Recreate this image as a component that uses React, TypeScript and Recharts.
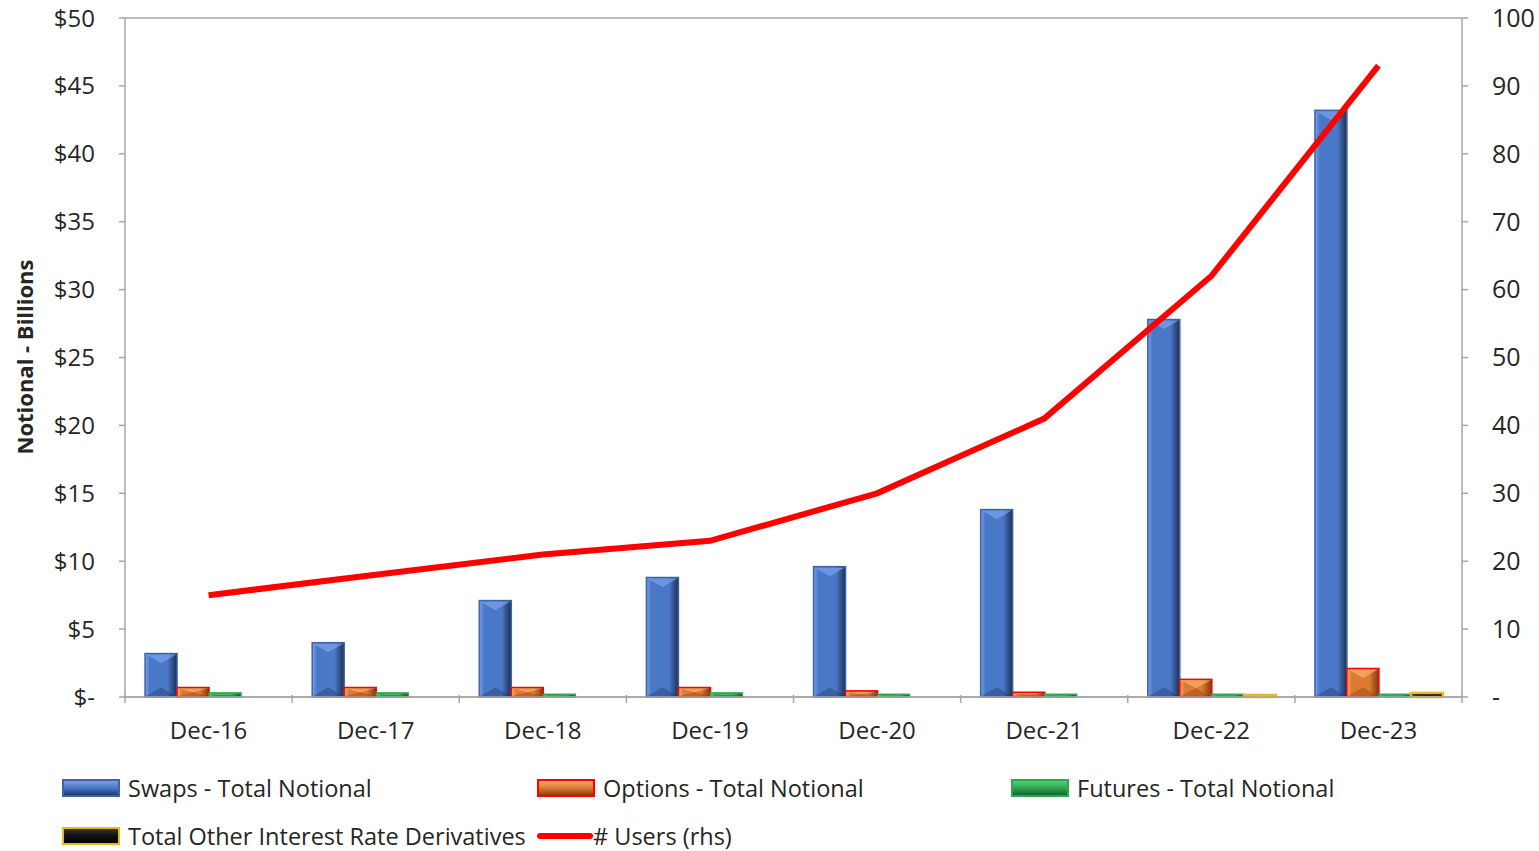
import React from "react";
import {
  ComposedChart,
  Bar,
  Line,
  XAxis,
  YAxis,
  CartesianGrid,
  Label,
} from "recharts";

const categories = ["Dec-16", "Dec-17", "Dec-18", "Dec-19", "Dec-20", "Dec-21", "Dec-22", "Dec-23"];
const swaps = [3.2, 4.0, 7.1, 8.8, 9.6, 13.8, 27.8, 43.2];
const options = [0.7, 0.7, 0.7, 0.7, 0.45, 0.35, 1.3, 2.1];
const futures = [0.3, 0.3, 0.2, 0.3, 0.2, 0.2, 0.2, 0.2];
const otherIrd = [0, 0, 0, 0, 0, 0, 0.15, 0.3];
const users = [15, 18, 21, 23, 30, 41, 62, 93];

const leftTicks = [0, 5, 10, 15, 20, 25, 30, 35, 40, 45, 50];
const rightTicks = [0, 10, 20, 30, 40, 50, 60, 70, 80, 90, 100];

const FONT = "'Open Sans', sans-serif";
const GRID = "#a6a6a6";
const TEXT = "#262626";

const data = categories.map((c, i) => ({
  name: c,
  swaps: swaps[i],
  options: options[i],
  futures: futures[i],
  other: otherIrd[i],
  users: users[i],
}));

interface BarStyle {
  id: string;
  light: string;
  main: string;
  dark: string;
  stroke: string;
  strokeWidth: number;
}

const styles: Record<string, BarStyle> = {
  swaps: { id: "gSwaps", light: "#7aa2e8", main: "#4a78c8", dark: "#1c2f52", stroke: "#3d64a8", strokeWidth: 1.5 },
  options: { id: "gOptions", light: "#f8b070", main: "#dd7a30", dark: "#7a3a10", stroke: "#ff0000", strokeWidth: 1.5 },
  futures: { id: "gFutures", light: "#5cd080", main: "#2ea84f", dark: "#14582a", stroke: "#2ea84f", strokeWidth: 1.5 },
  other: { id: "gOther", light: "#3a3a3a", main: "#111111", dark: "#000000", stroke: "#e8b820", strokeWidth: 2.5 },
};

function Gradient({ s }: { s: BarStyle }) {
  return (
    <linearGradient id={s.id} x1="0" y1="0" x2="1" y2="0">
      <stop offset="0%" stopColor={s.light} />
      <stop offset="15%" stopColor={s.main} />
      <stop offset="70%" stopColor={s.main} />
      <stop offset="100%" stopColor={s.dark} />
    </linearGradient>
  );
}

function bevelShape(s: BarStyle) {
  return (props: any) => {
    const { x, y, width, height } = props;
    if (!height || height <= 0) return <g />;
    const d = Math.min(height / 2, width * 0.3);
    return (
      <g>
        <rect x={x} y={y} width={width} height={height} fill={`url(#${s.id})`} stroke={s.stroke} strokeWidth={s.strokeWidth} />
        <polygon
          points={`${x + 1},${y + 1} ${x + width - 1},${y + 1} ${x + width / 2},${y + d}`}
          fill={s.light}
          opacity={0.7}
        />
        <polygon
          points={`${x + 1},${y + height - 1} ${x + width - 1},${y + height - 1} ${x + width / 2},${y + height - d}`}
          fill={s.dark}
          opacity={0.35}
        />
      </g>
    );
  };
}

// category label plus tick marks on the band edges
function CategoryTick(props: any) {
  const { x, y, payload, index } = props;
  const half = payload.offset ?? 0;
  const axisY = y - 10;
  return (
    <g>
      <line x1={x - half} x2={x - half} y1={axisY} y2={axisY + 8} stroke={GRID} strokeWidth={1.5} />
      {index === categories.length - 1 && (
        <line x1={x + half} x2={x + half} y1={axisY} y2={axisY + 8} stroke={GRID} strokeWidth={1.5} />
      )}
      <text x={x} y={y + 34} textAnchor="middle" fontSize={24} fontFamily={FONT} fill={TEXT}>
        {payload.value}
      </text>
    </g>
  );
}

const legendItems = [
  { label: "Swaps - Total Notional", key: "swaps", left: 62, top: 780 },
  { label: "Options - Total Notional", key: "options", left: 537, top: 780 },
  { label: "Futures - Total Notional", key: "futures", left: 1011, top: 780 },
  { label: "Total Other Interest Rate Derivatives", key: "other", left: 62, top: 828 },
];

function Swatch({ s }: { s: BarStyle }) {
  return (
    <svg width={58} height={18} style={{ display: "block" }}>
      <defs>
        <linearGradient id={`${s.id}L`} x1="0" y1="0" x2="0" y2="1">
          <stop offset="0%" stopColor={s.light} />
          <stop offset="50%" stopColor={s.main} />
          <stop offset="100%" stopColor={s.dark} />
        </linearGradient>
      </defs>
      <rect x={1} y={1} width={56} height={16} fill={`url(#${s.id}L)`} stroke={s.stroke} strokeWidth={2} />
    </svg>
  );
}

const legendText: React.CSSProperties = {
  position: "absolute",
  display: "flex",
  alignItems: "center",
  fontFamily: FONT,
  fontSize: 23.5,
  color: TEXT,
  whiteSpace: "nowrap",
};

export default function App() {
  return (
    <div style={{ position: "absolute", left: 0, top: 0, width: 1539, height: 851, background: "#fff" }}>
      <ComposedChart
        width={1539}
        height={760}
        data={data}
        margin={{ top: 18, right: 0, bottom: 0, left: 0 }}
        barCategoryGap="12%"
        barGap={0}
      >
        <defs>
          {Object.values(styles).map((s) => (
            <Gradient key={s.id} s={s} />
          ))}
        </defs>
        <CartesianGrid vertical={false} stroke={GRID} strokeWidth={1.5} />
        <XAxis
          dataKey="name"
          height={63}
          tickLine={false}
          axisLine={{ stroke: GRID, strokeWidth: 1.5 }}
          tick={<CategoryTick />}
          interval={0}
        />
        <YAxis
          yAxisId="left"
          width={125}
          domain={[0, 50]}
          ticks={leftTicks}
          tickFormatter={(v: number) => (v === 0 ? "$-" : `$${v}`)}
          tick={{ fontSize: 24, fontFamily: FONT, fill: TEXT }}
          tickLine={{ stroke: GRID, strokeWidth: 1.5 }}
          tickSize={6}
          tickMargin={24}
          axisLine={{ stroke: GRID, strokeWidth: 1.5 }}
        >
          <Label
            content={() => (
              <text
                x={0}
                y={0}
                transform="translate(33,357) rotate(-90)"
                textAnchor="middle"
                fontSize={22}
                fontWeight="bold"
                fontFamily={FONT}
                fill={TEXT}
              >
                Notional - Billions
              </text>
            )}
          />
        </YAxis>
        <YAxis
          yAxisId="right"
          orientation="right"
          width={77}
          domain={[0, 100]}
          ticks={rightTicks}
          tickFormatter={(v: number) => (v === 0 ? "-" : String(v))}
          tick={{ fontSize: 25, fontFamily: FONT, fill: TEXT, textAnchor: "start" }}
          tickLine={{ stroke: GRID, strokeWidth: 1.5 }}
          tickSize={6}
          tickMargin={24}
          axisLine={{ stroke: GRID, strokeWidth: 1.5 }}
        />
        <Bar yAxisId="left" dataKey="swaps" shape={bevelShape(styles.swaps)} isAnimationActive={false} />
        <Bar yAxisId="left" dataKey="options" shape={bevelShape(styles.options)} isAnimationActive={false} />
        <Bar yAxisId="left" dataKey="futures" shape={bevelShape(styles.futures)} isAnimationActive={false} />
        <Bar yAxisId="left" dataKey="other" shape={bevelShape(styles.other)} isAnimationActive={false} />
        <Line
          yAxisId="right"
          dataKey="users"
          type="linear"
          stroke="#ff0000"
          strokeWidth={6}
          dot={false}
          isAnimationActive={false}
        />
      </ComposedChart>

      {legendItems.map((it) => (
        <div key={it.key} style={{ ...legendText, left: it.left, top: it.top - 8 }}>
          <Swatch s={styles[it.key]} />
          <span style={{ marginLeft: 8 }}>{it.label}</span>
        </div>
      ))}
      <div style={{ ...legendText, left: 537, top: 820 }}>
        <svg width={56} height={18} style={{ display: "block" }}>
          <line x1={3} x2={53} y1={9} y2={9} stroke="#ff0000" strokeWidth={6} strokeLinecap="round" />
        </svg>
        <span>{"# Users (rhs)"}</span>
      </div>
    </div>
  );
}
